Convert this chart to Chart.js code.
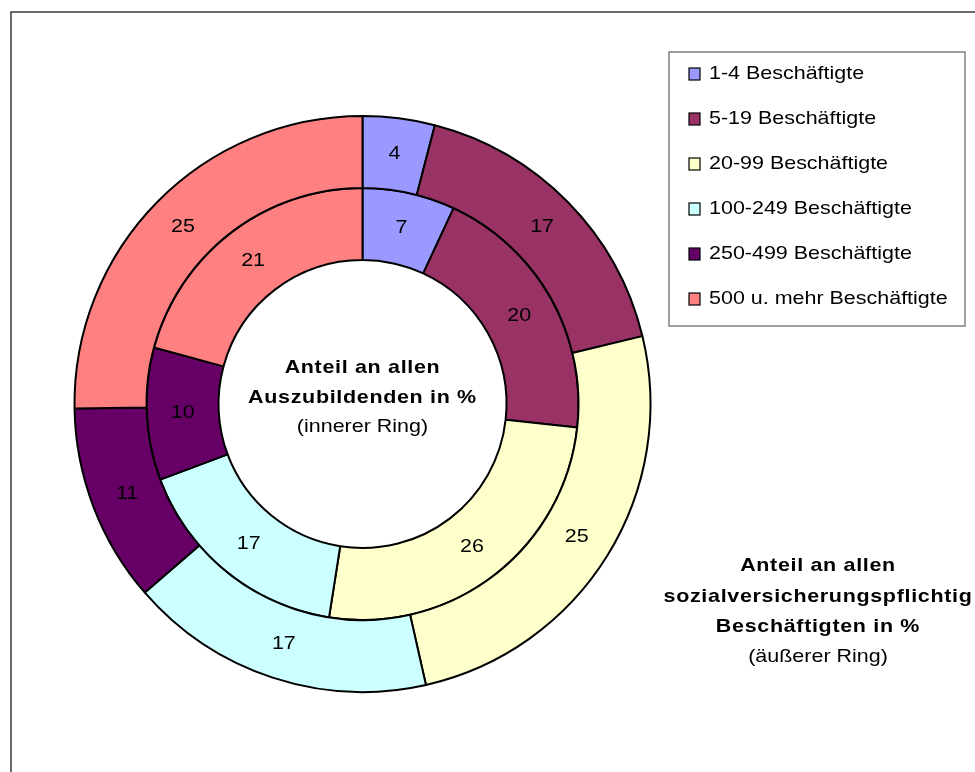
<!DOCTYPE html>
<html>
<head>
<meta charset="utf-8">
<script src="https://cdn.jsdelivr.net/npm/chart.js@4.4.0/dist/chart.umd.min.js"></script>
<style>
  body { margin: 0; background: #fff; }
  #wrap { width: 975px; height: 772px; }
</style>
</head>
<body>
<div id="wrap"><canvas id="ringChart" width="975" height="772"></canvas></div>
<script>
// Betriebsgrößenklassen
const categories = [
    "1-4 Beschäftigte", "5-19 Beschäftigte", "20-99 Beschäftigte",
    "100-249 Beschäftigte", "250-499 Beschäftigte", "500 u. mehr Beschäftigte"
];
// äußerer Ring: sozialversicherungspflichtig Beschäftigte in %
const beschaeftigte = [4, 17, 25, 17, 11, 25];
// innerer Ring: Auszubildende in %
const auszubildende = [7, 20, 26, 17, 10, 21];
const sliceColors = ["#9999FF", "#993366", "#FFFFCC", "#CCFFFF", "#660066", "#FF8080"];

const FONT = '"Liberation Sans", Arial, sans-serif';
const STRETCH = 1.13;

// Text leicht in die Breite gezogen zeichnen
function drawText(ctx, text, x, y, align, font, spacing) {
    ctx.save();
    ctx.font = font;
    ctx.letterSpacing = spacing || '0px';
    ctx.textAlign = align;
    ctx.textBaseline = 'middle';
    ctx.fillStyle = '#000';
    ctx.translate(x, y);
    ctx.scale(STRETCH, 1);
    ctx.fillText(text, 0, 0);
    ctx.restore();
}

const ringExtras = {
    id: 'ringExtras',
    beforeDraw(chart) {
        const ctx = chart.ctx;
        ctx.save();
        ctx.fillStyle = '#fff';
        ctx.fillRect(0, 0, chart.width, chart.height);
        // Rahmen um die Grafik
        ctx.strokeStyle = '#3a3a3a';
        ctx.lineWidth = 1.5;
        ctx.strokeRect(11, 12, 1000, 800);
        ctx.restore();
    },
    afterDraw(chart) {
        const ctx = chart.ctx;
        // Werte in den Segmenten
        chart.data.datasets.forEach((ds, di) => {
            chart.getDatasetMeta(di).data.forEach((arc, i) => {
                const p = arc.tooltipPosition();
                drawText(ctx, String(ds.data[i]), p.x, p.y, 'center', '19px ' + FONT);
            });
        });

        // Beschriftung innen
        const cx = (chart.chartArea.left + chart.chartArea.right) / 2;
        drawText(ctx, 'Anteil an allen', cx, 368, 'center', 'bold 19px ' + FONT, '0.6px');
        drawText(ctx, 'Auszubildenden in %', cx, 398, 'center', 'bold 19px ' + FONT, '0.6px');
        drawText(ctx, '(innerer Ring)', cx, 427, 'center', '19px ' + FONT);

        // Beschriftung äußerer Ring
        drawText(ctx, 'Anteil an allen', 818, 566, 'center', 'bold 19px ' + FONT, '0.6px');
        drawText(ctx, 'sozialversicherungspflichtig', 818, 597, 'center', 'bold 19px ' + FONT, '0.6px');
        drawText(ctx, 'Beschäftigten in %', 818, 627, 'center', 'bold 19px ' + FONT, '0.6px');
        drawText(ctx, '(äußerer Ring)', 818, 657, 'center', '19px ' + FONT);

        // Legende
        ctx.save();
        ctx.strokeStyle = '#808080';
        ctx.lineWidth = 1.5;
        ctx.fillStyle = '#fff';
        ctx.fillRect(669, 52, 296, 274);
        ctx.strokeRect(669, 52, 296, 274);
        categories.forEach((label, i) => {
            const y = 74 + i * 45;
            ctx.fillStyle = sliceColors[i];
            ctx.fillRect(689, y - 6, 11, 12);
            ctx.strokeStyle = '#000';
            ctx.lineWidth = 1.2;
            ctx.strokeRect(689, y - 6, 11, 12);
            drawText(ctx, label, 709, y, 'left', '19px ' + FONT);
        });
        ctx.restore();
    }
};

new Chart(document.getElementById('ringChart'), {
    type: 'doughnut',
    data: {
        labels: categories,
        datasets: [
            {
                label: 'Beschäftigte',
                data: beschaeftigte,
                backgroundColor: sliceColors,
                borderColor: '#000',
                borderWidth: 2
            },
            {
                label: 'Auszubildende',
                data: auszubildende,
                backgroundColor: sliceColors,
                borderColor: '#000',
                borderWidth: 2
            }
        ]
    },
    options: {
        responsive: false,
        animation: false,
        events: [],
        cutout: '50%',
        layout: { padding: { left: 73, top: 115, right: 323, bottom: 79 } },
        plugins: {
            legend: { display: false },
            tooltip: { enabled: false },
            title: { display: false }
        }
    },
    plugins: [ringExtras]
});
</script>
</body>
</html>
